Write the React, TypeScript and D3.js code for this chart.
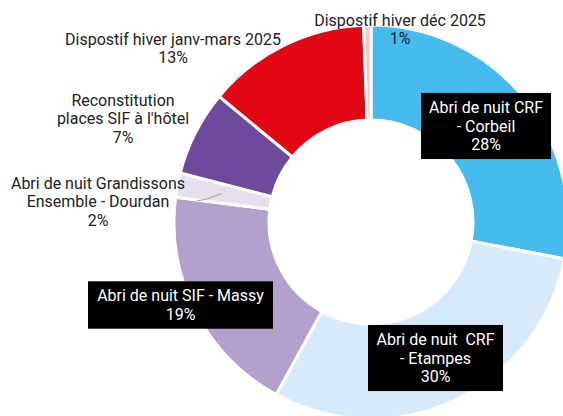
import React, { useRef, useEffect } from "react";
import * as d3 from "d3";

// slices, clockwise from 12 o'clock (shares in %, labels show them rounded)
const categories = [
  ["Abri de nuit CRF", "- Corbeil"],
  ["Abri de nuit  CRF", "- Etampes"],
  ["Abri de nuit SIF - Massy"],
  ["Abri de nuit Grandissons", "Ensemble - Dourdan"],
  ["Reconstitution", "places SIF à l'hôtel"],
  ["Dispostif hiver janv-mars 2025"],
  ["Dispostif hiver déc 2025"],
];
const shares = [28, 30, 19, 2, 7, 13.4, 0.6];
const colors = ["#45bcec", "#d7eaf9", "#b3a1cd", "#e6dff0", "#6d4a9c", "#e20714", "#f6c6c1"];

// label placement: boxed labels sit inside the ring, the others outside
const labelLayout = [
  { boxed: true, x: 486, y: 126, w: 130 },
  { boxed: true, x: 435.5, y: 358, w: 135 },
  { boxed: true, x: 180.5, y: 305, w: 185 },
  { boxed: false, x: 98, y: 183 },
  { boxed: false, x: 123, y: 100 },
  { boxed: false, x: 173, y: 39 },
  { boxed: false, x: 400, y: 20 },
];

const W = 563;
const H = 416;
const cx = 371;
const cy = 222;
const outerR = 197;
const innerR = 102;
const lineH = 18.7;

const App = () => {
  const svgRef = useRef<SVGSVGElement>(null);

  useEffect(() => {
    const svg = d3.select(svgRef.current);
    svg.selectAll("*").remove();

    const pie = d3.pie<number>().sort(null).value(d => d);
    const arc = d3.arc<d3.PieArcDatum<number>>().innerRadius(innerR).outerRadius(outerR);
    const arcs = pie(shares);

    const g = svg.append("g").attr("transform", `translate(${cx},${cy})`);
    g.selectAll("path")
      .data(arcs)
      .enter()
      .append("path")
      .attr("d", arc)
      .attr("fill", (d, i) => colors[i])
      .attr("stroke", "#fff")
      .attr("stroke-width", 3)
      .attr("stroke-linejoin", "miter");

    // leader line for the small Dourdan slice
    const small = arcs[3];
    const mid = (small.startAngle + small.endAngle) / 2;
    const r0 = 152;
    const p0 = [Math.sin(mid) * r0 + cx, -Math.cos(mid) * r0 + cy];
    svg.append("polyline")
      .attr("points", `${p0[0]},${p0[1]} ${p0[0] - 15},${p0[1] + 5.5} ${p0[0] - 25},${p0[1] + 7.5}`)
      .attr("fill", "none")
      .attr("stroke", "#a6a6a6")
      .attr("stroke-width", 1.2);

    const labels = svg.append("g")
      .attr("font-family", "Roboto, sans-serif")
      .attr("font-size", 16)
      .attr("text-anchor", "middle");

    categories.forEach((lines, i) => {
      const lay = labelLayout[i];
      const all = [...lines, `${Math.round(shares[i])}%`];
      const n = all.length;
      const top = lay.boxed ? lay.y - (n - 1) * lineH / 2 : lay.y;
      if (lay.boxed) {
        const h = n * lineH + 10;
        labels.append("rect")
          .attr("x", lay.x - lay.w! / 2)
          .attr("y", lay.y - h / 2)
          .attr("width", lay.w!)
          .attr("height", h)
          .attr("fill", "#000");
      }
      all.forEach((t, k) => {
        labels.append("text")
          .attr("x", lay.x)
          .attr("y", top + k * lineH)
          .attr("dy", "0.35em")
          .attr("fill", lay.boxed ? "#fff" : "#222")
          .style("white-space", "pre")
          .text(t);
      });
    });
  }, []);

  return (
    <svg
      ref={svgRef}
      width={W}
      height={H}
      style={{ position: "absolute", left: 0, top: 0, background: "#fff" }}
    ></svg>
  );
};

export default App;
